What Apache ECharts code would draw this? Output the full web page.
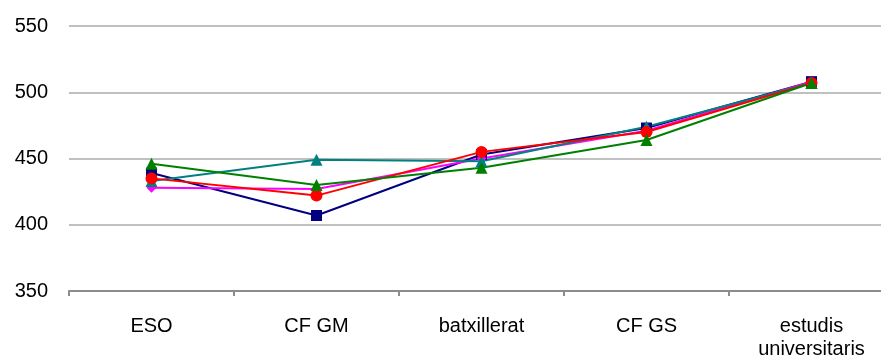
<!DOCTYPE html>
<html>
<head>
<meta charset="utf-8">
<script src="https://cdn.jsdelivr.net/npm/echarts@6/dist/echarts.min.js"></script>
<style>
  html, body { margin: 0; padding: 0; background: #fff; overflow: hidden; }
  /* the original plot runs a bit past the right edge of the picture */
  #chart { width: 894px; height: 361px; }
</style>
</head>
<body>
<div id="chart"></div>
<script>
const categories = ['ESO', 'CF GM', 'batxillerat', 'CF GS', 'estudis\nuniversitaris'];

// one array per series
const navy = [439, 407, 453, 473, 508];
const magenta = [428, 427, 450, 471, 508];
const teal = [433, 449, 448, 474, 507];
const red = [435, 422, 455, 470, 507];
const green = [446, 430, 443, 464, 507];

const seriesDefs = [
  { name: 's1', data: navy, color: '#000080', symbol: 'rect', size: 11 },
  { name: 's2', data: magenta, color: '#FF00FF', symbol: 'diamond', size: 10 },
  { name: 's3', data: teal, color: '#008080', symbol: 'triangle', size: 12 },
  { name: 's4', data: red, color: '#FF0000', symbol: 'circle', size: 12 },
  { name: 's5', data: green, color: '#008000', symbol: 'triangle', size: 12 }
];

const chart = echarts.init(document.getElementById('chart'));

chart.setOption({
  animation: false,
  grid: { left: 69, right: 0, top: 26, bottom: 68 },
  xAxis: {
    type: 'category',
    data: categories,
    boundaryGap: true,
    axisLine: { lineStyle: { color: '#8c8c8c', width: 2 } },
    axisTick: { show: true, length: 5, lineStyle: { color: '#8c8c8c', width: 2 } },
    axisLabel: {
      color: '#000',
      fontFamily: 'Liberation Sans',
      fontSize: 20,
      lineHeight: 23,
      margin: 24
    }
  },
  yAxis: {
    type: 'value',
    min: 350,
    max: 550,
    interval: 50,
    axisLine: { show: false },
    axisTick: { show: false },
    splitLine: { lineStyle: { color: '#c0c0c0', width: 2 } },
    axisLabel: {
      color: '#000',
      fontFamily: 'Liberation Sans',
      fontSize: 20,
      margin: 21
    }
  },
  series: seriesDefs.map(s => ({
    name: s.name,
    type: 'line',
    data: s.data,
    symbol: s.symbol,
    symbolSize: s.size,
    showAllSymbol: true,
    lineStyle: { color: s.color, width: 2 },
    itemStyle: { color: s.color }
  }))
});
</script>
</body>
</html>
